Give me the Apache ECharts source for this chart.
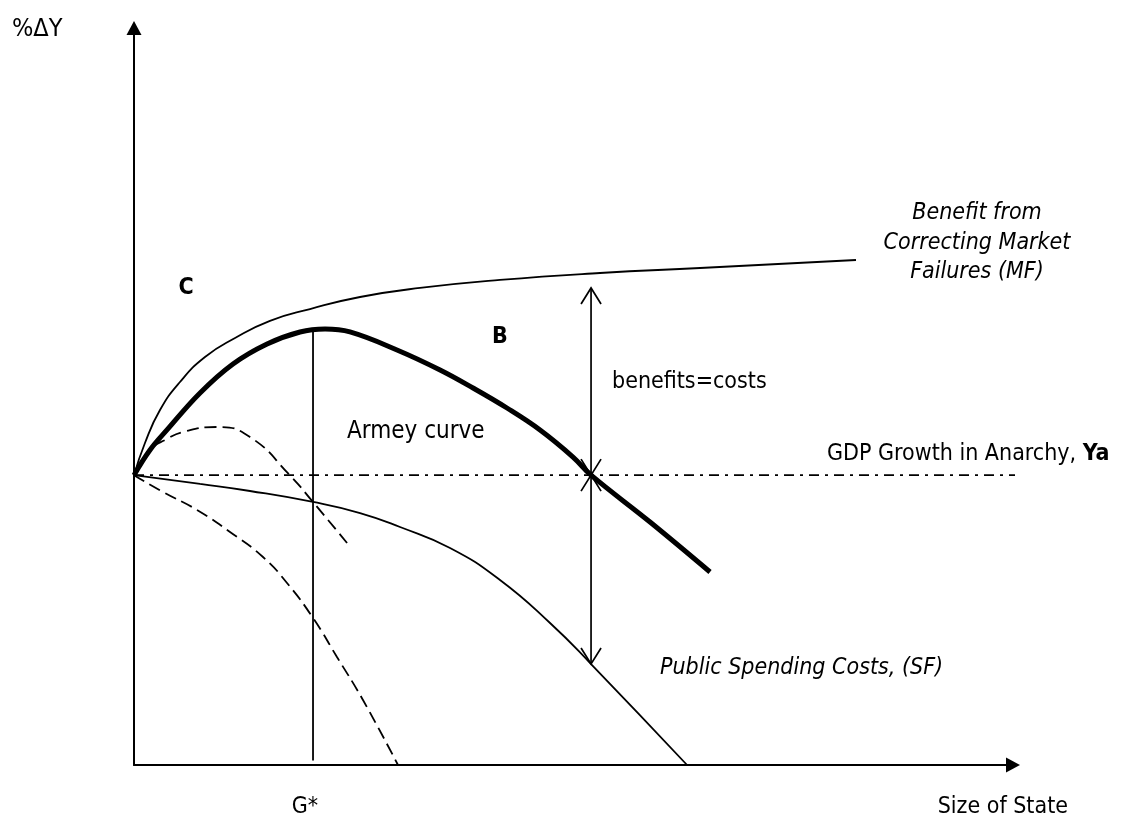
<!DOCTYPE html>
<html><head><meta charset="utf-8">
<script src="https://cdn.jsdelivr.net/npm/echarts@6/dist/echarts.min.js"></script>
<style>html,body{margin:0;padding:0;background:#fff}#c{width:1123px;height:828px}</style>
</head><body><div id="c"></div>
<script>
// Benefit from correcting market failures (MF)
const mfCurve = [[0,38.8],[1.24,43.11],[2.94,47.52],[5.2,51.27],[8.03,54.62],[11.43,57.16],[15.38,59.46],[19.91,61.04],[25.57,62.65],[32.35,63.86],[41.4,64.93],[52.71,65.86],[64.03,66.53],[81.67,67.6]];
// Armey curve (thick)
const armeyCurve = [[0,38.8],[1.81,42.17],[3.73,44.85],[7.47,49.8],[11.2,53.68],[15.05,56.36],[18.78,57.97],[21.61,58.37],[24.43,57.97],[29.75,55.56],[34.62,52.88],[38.35,50.47],[42.19,47.79],[45.93,44.85],[49.66,41.23],[51.7,38.8],[58.37,32.53],[65.16,25.84]];
// Dashed hump
const dashedUpper = [[0,38.8],[1.81,42.17],[3.73,43.64],[5.54,44.58],[9.39,45.25],[13.12,43.91],[17.65,38.76],[20.25,35.2],[24.1,29.72]];
// Dashed falling curve
const dashedLower = [[0,38.8],[3.28,36.55],[7.13,34.14],[10.86,31.19],[14.59,27.84],[17.31,24.36],[20.25,19.68],[22.96,14.46],[25.9,8.7],[29.86,0]];
// Public spending costs (SF)
const sfCurve = [[0,38.8],[7.47,37.62],[13.12,36.68],[20.25,35.21],[25.57,33.73],[30.09,31.86],[35.75,29.05],[41.4,24.77],[47.06,19.01],[51.7,13.52],[62.56,0]];
// GDP growth in anarchy (Ya)
const anarchyLine = [[0,38.8],[100.4,38.8]];
// G* vertical line
const gStarLine = [[20.25,0.6],[20.25,58.3]];
// double-headed arrows: [x, from, to]
const arrows = [[51.7,38.8,63.86],[51.7,38.8,13.52]];

const FONT = '"DejaVu Sans Condensed", "DejaVu Sans"';
const FS = 23;
const chart = echarts.init(document.getElementById('c'), null, {renderer:'canvas'});
const lineSeries = (data, w, type, extra) => Object.assign({
  type:'line', data, symbol:'none', smooth:0.5, silent:true, animation:false,
  lineStyle: {color:'#000', width:w, type:type||'solid'}
}, extra||{});

chart.setOption({
  animation:false,
  backgroundColor:'#fff',
  grid:{left:134, top:28, right:110, bottom:63, containLabel:false},
  xAxis:{type:'value', min:0, max:99.43, splitLine:{show:false}, axisTick:{show:false}, axisLabel:{show:false},
    axisLine:{show:true, onZero:false, symbol:['none','triangle'], symbolSize:[15,14], lineStyle:{color:'#000', width:2}}},
  yAxis:{type:'value', min:0, max:98.66, splitLine:{show:false}, axisTick:{show:false}, axisLabel:{show:false},
    axisLine:{show:true, onZero:false, symbol:['none','triangle'], symbolSize:[15,14], lineStyle:{color:'#000', width:2}}},
  series:[
    lineSeries(anarchyLine, 1.6, [10,6,3,6], {smooth:false, clip:false}),
    lineSeries(mfCurve, 1.8),
    lineSeries(sfCurve, 1.8),
    lineSeries(dashedUpper, 1.8, [12,6]),
    lineSeries(dashedLower, 1.8, [12,6]),
    lineSeries(gStarLine, 1.8, 'solid', {smooth:false}),
    lineSeries(armeyCurve, 5, 'solid', {smooth:0.4, lineStyle:{color:'#000', width:5, cap:'butt', join:'round'}}),
    {
      type:'custom', silent:true, animation:false, clip:false,
      data: arrows,
      renderItem: function(params, api){
        const p1 = api.coord([api.value(0), api.value(1)]);
        const p2 = api.coord([api.value(0), api.value(2)]);
        const dir = p2[1] > p1[1] ? 1 : -1;
        const hw = 10, hl = 16;
        const st = {stroke:'#000', lineWidth:1.7, fill:null};
        return {type:'group', children:[
          {type:'line', shape:{x1:p1[0], y1:p1[1], x2:p2[0], y2:p2[1]}, style:st},
          {type:'polyline', shape:{points:[[p2[0]-hw, p2[1]-dir*hl],[p2[0],p2[1]],[p2[0]+hw, p2[1]-dir*hl]]}, style:st},
          {type:'polyline', shape:{points:[[p1[0]-hw, p1[1]+dir*hl],[p1[0],p1[1]],[p1[0]+hw, p1[1]+dir*hl]]}, style:st}
        ]};
      }
    }
  ],
  graphic:[
    {type:'text', x:12, y:29, style:{text:'%\u0394Y', font:'25px '+FONT, fill:'#000', verticalAlign:'middle'}},
    {type:'text', x:186, y:288, style:{text:'C', font:'bold 23px '+FONT, fill:'#000', align:'center', verticalAlign:'middle'}},
    {type:'text', x:500, y:337, style:{text:'B', font:'bold 23px '+FONT, fill:'#000', align:'center', verticalAlign:'middle'}},
    {type:'text', x:347, y:432, style:{text:'Armey curve', font:(FS+1)+'px '+FONT, fill:'#000', align:'left', verticalAlign:'middle'}},
    {type:'text', x:612, y:382, style:{text:'benefits=costs', font:FS+'px '+FONT, fill:'#000', align:'left', verticalAlign:'middle'}},
    {type:'text', x:827, y:454, style:{text:'GDP Growth in Anarchy, {b|Ya}', font:FS+'px '+FONT, fill:'#000', align:'left', verticalAlign:'middle',
      rich:{b:{font:'bold '+FS+'px '+FONT, fill:'#000'}}}},
    {type:'text', x:977, y:243, style:{text:'Benefit from\nCorrecting Market\nFailures (MF)', font:'italic '+FS+'px '+FONT, lineHeight:29.5, fill:'#000', align:'center', verticalAlign:'middle'}},
    {type:'text', x:660, y:668, style:{text:'Public Spending Costs, (SF)', font:'italic '+FS+'px '+FONT, fill:'#000', align:'left', verticalAlign:'middle'}},
    {type:'text', x:305, y:807, style:{text:'G*', font:FS+'px '+FONT, fill:'#000', align:'center', verticalAlign:'middle'}},
    {type:'text', x:1068, y:807, style:{text:'Size of State', font:FS+'px '+FONT, fill:'#000', align:'right', verticalAlign:'middle'}}
  ]
});
</script></body></html>
